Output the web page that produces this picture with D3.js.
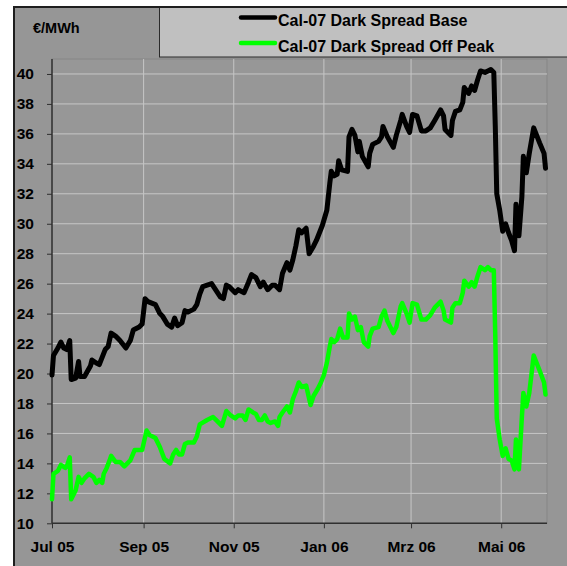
<!DOCTYPE html>
<html>
<head>
<meta charset="utf-8">
<script src="https://cdn.jsdelivr.net/npm/d3@7"></script>
<style>
  html, body { margin: 0; padding: 0; background: #fff; }
  svg { display: block; }
  text { font-family: "Liberation Sans", Arial, sans-serif; font-weight: bold; fill: #000; }
</style>
</head>
<body>
<svg id="chart" width="567" height="566"></svg>
<script>
// Werte (Datum, €/MWh)
const baseSeries = [
  ["2005-07-01", 19.9], ["2005-07-02", 21.2], ["2005-07-05", 21.7], ["2005-07-07", 22.1],
  ["2005-07-09", 21.7], ["2005-07-11", 21.6], ["2005-07-13", 22.2], ["2005-07-14", 19.6],
  ["2005-07-17", 19.7], ["2005-07-19", 20.8], ["2005-07-20", 19.8], ["2005-07-23", 19.8],
  ["2005-07-27", 20.5], ["2005-07-28", 20.9], ["2005-07-31", 20.7], ["2005-08-02", 20.6],
  ["2005-08-04", 21.1], ["2005-08-06", 21.6], ["2005-08-08", 21.8], ["2005-08-10", 22.7],
  ["2005-08-13", 22.5], ["2005-08-16", 22.2], ["2005-08-20", 21.7], ["2005-08-23", 22.2],
  ["2005-08-25", 22.9], ["2005-08-29", 23.1], ["2005-08-31", 23.3], ["2005-09-02", 25.0],
  ["2005-09-04", 24.8], ["2005-09-09", 24.6], ["2005-09-12", 24.0], ["2005-09-14", 23.8],
  ["2005-09-17", 23.3], ["2005-09-20", 23.1], ["2005-09-22", 23.7], ["2005-09-24", 23.2],
  ["2005-09-27", 23.4], ["2005-09-29", 24.2], ["2005-10-01", 24.1], ["2005-10-05", 24.3],
  ["2005-10-07", 24.6], ["2005-10-09", 25.3], ["2005-10-11", 25.8], ["2005-10-14", 25.9],
  ["2005-10-17", 26.0], ["2005-10-19", 25.7], ["2005-10-23", 25.1], ["2005-10-25", 25.0],
  ["2005-10-27", 25.9], ["2005-10-29", 25.8], ["2005-11-02", 25.4], ["2005-11-04", 25.6],
  ["2005-11-06", 25.5], ["2005-11-08", 25.4], ["2005-11-11", 26.1], ["2005-11-13", 26.6],
  ["2005-11-16", 26.4], ["2005-11-19", 25.8], ["2005-11-21", 26.1], ["2005-11-24", 25.6],
  ["2005-11-27", 25.9], ["2005-11-29", 25.9], ["2005-12-02", 25.6], ["2005-12-04", 26.7],
  ["2005-12-07", 27.4], ["2005-12-09", 26.9], ["2005-12-11", 27.6], ["2005-12-13", 28.5],
  ["2005-12-15", 29.6], ["2005-12-17", 29.4], ["2005-12-20", 29.7], ["2005-12-22", 28.0],
  ["2005-12-25", 28.5], ["2005-12-27", 28.9], ["2005-12-29", 29.4], ["2005-12-31", 29.9],
  ["2006-01-03", 30.9], ["2006-01-05", 32.7], ["2006-01-06", 33.5], ["2006-01-08", 33.2],
  ["2006-01-10", 33.3], ["2006-01-11", 34.2], ["2006-01-13", 33.6], ["2006-01-17", 33.5],
  ["2006-01-18", 35.8], ["2006-01-20", 36.3], ["2006-01-22", 35.9], ["2006-01-24", 34.8],
  ["2006-01-25", 35.5], ["2006-01-27", 34.5], ["2006-01-31", 33.8], ["2006-02-01", 34.7],
  ["2006-02-03", 35.3], ["2006-02-07", 35.5], ["2006-02-09", 35.8], ["2006-02-10", 36.5],
  ["2006-02-13", 35.8], ["2006-02-17", 35.1], ["2006-02-19", 35.9], ["2006-02-22", 36.9],
  ["2006-02-23", 37.3], ["2006-02-26", 36.5], ["2006-02-28", 36.1], ["2006-03-02", 37.3],
  ["2006-03-05", 37.2], ["2006-03-08", 36.2], ["2006-03-11", 36.2], ["2006-03-14", 36.4],
  ["2006-03-17", 36.9], ["2006-03-21", 37.6], ["2006-03-23", 37.2], ["2006-03-24", 36.3],
  ["2006-03-28", 35.9], ["2006-03-29", 36.9], ["2006-03-31", 37.5], ["2006-04-03", 37.6],
  ["2006-04-05", 38.1], ["2006-04-06", 39.1], ["2006-04-09", 38.7], ["2006-04-11", 39.2],
  ["2006-04-13", 38.9], ["2006-04-15", 39.6], ["2006-04-17", 40.2], ["2006-04-20", 40.1],
  ["2006-04-22", 40.2], ["2006-04-24", 40.3], ["2006-04-26", 40.1], ["2006-04-27", 36.5],
  ["2006-04-28", 32.0], ["2006-04-30", 30.9], ["2006-05-02", 29.5], ["2006-05-04", 30.0],
  ["2006-05-06", 29.4], ["2006-05-08", 28.9], ["2006-05-10", 28.2], ["2006-05-11", 31.3],
  ["2006-05-13", 29.2], ["2006-05-15", 31.8], ["2006-05-16", 34.5], ["2006-05-18", 33.4],
  ["2006-05-20", 34.7], ["2006-05-23", 36.4], ["2006-05-27", 35.4], ["2006-05-30", 34.7],
  ["2006-05-31", 33.7]
];

const offPeakSeries = [
  ["2005-07-01", 11.6], ["2005-07-02", 13.3], ["2005-07-05", 13.5], ["2005-07-07", 13.9],
  ["2005-07-10", 13.7], ["2005-07-11", 13.8], ["2005-07-13", 14.4], ["2005-07-14", 11.6],
  ["2005-07-17", 12.2], ["2005-07-19", 13.1], ["2005-07-21", 12.7], ["2005-07-23", 13.0],
  ["2005-07-26", 13.3], ["2005-07-29", 13.1], ["2005-07-31", 12.7], ["2005-08-02", 12.9],
  ["2005-08-04", 12.7], ["2005-08-05", 13.3], ["2005-08-07", 13.7], ["2005-08-09", 14.2],
  ["2005-08-10", 14.5], ["2005-08-13", 14.1], ["2005-08-16", 14.1], ["2005-08-19", 13.8],
  ["2005-08-23", 14.2], ["2005-08-26", 14.9], ["2005-08-31", 14.9], ["2005-09-03", 16.2],
  ["2005-09-05", 15.9], ["2005-09-09", 15.7], ["2005-09-12", 15.1], ["2005-09-15", 14.3],
  ["2005-09-19", 14.0], ["2005-09-21", 14.6], ["2005-09-23", 14.9], ["2005-09-25", 14.6],
  ["2005-09-27", 14.6], ["2005-09-29", 15.3], ["2005-10-01", 15.4], ["2005-10-05", 15.4],
  ["2005-10-07", 15.8], ["2005-10-09", 16.6], ["2005-10-14", 16.9], ["2005-10-18", 17.1],
  ["2005-10-21", 16.8], ["2005-10-24", 16.5], ["2005-10-27", 17.5], ["2005-10-30", 17.2],
  ["2005-11-02", 17.0], ["2005-11-04", 17.2], ["2005-11-07", 17.2], ["2005-11-09", 16.9],
  ["2005-11-11", 17.6], ["2005-11-14", 17.4], ["2005-11-16", 17.3], ["2005-11-18", 16.9],
  ["2005-11-20", 16.9], ["2005-11-22", 17.2], ["2005-11-24", 16.8], ["2005-11-26", 16.7],
  ["2005-11-29", 16.8], ["2005-12-01", 16.5], ["2005-12-02", 17.1], ["2005-12-04", 17.4],
  ["2005-12-07", 17.8], ["2005-12-09", 17.4], ["2005-12-11", 18.3], ["2005-12-13", 18.8],
  ["2005-12-15", 19.4], ["2005-12-17", 19.1], ["2005-12-20", 19.2], ["2005-12-23", 17.9],
  ["2005-12-25", 18.5], ["2005-12-28", 19.0], ["2005-12-30", 19.4], ["2006-01-01", 19.9],
  ["2006-01-03", 20.7], ["2006-01-05", 21.8], ["2006-01-06", 22.3], ["2006-01-08", 22.1],
  ["2006-01-10", 22.3], ["2006-01-12", 23.0], ["2006-01-14", 22.4], ["2006-01-17", 22.4],
  ["2006-01-18", 24.0], ["2006-01-20", 23.6], ["2006-01-22", 23.8], ["2006-01-24", 22.9],
  ["2006-01-26", 23.1], ["2006-01-28", 22.1], ["2006-01-31", 21.8], ["2006-02-01", 22.5],
  ["2006-02-03", 23.0], ["2006-02-07", 23.1], ["2006-02-09", 23.8], ["2006-02-11", 24.2],
  ["2006-02-13", 23.5], ["2006-02-17", 22.7], ["2006-02-19", 23.1], ["2006-02-22", 24.5],
  ["2006-02-23", 24.7], ["2006-02-26", 24.0], ["2006-02-28", 23.4], ["2006-03-02", 24.7],
  ["2006-03-05", 24.6], ["2006-03-08", 23.6], ["2006-03-11", 23.6], ["2006-03-14", 23.9],
  ["2006-03-17", 24.4], ["2006-03-21", 24.8], ["2006-03-23", 24.2], ["2006-03-24", 23.6],
  ["2006-03-28", 23.4], ["2006-03-29", 24.4], ["2006-03-31", 24.7], ["2006-04-03", 24.7],
  ["2006-04-05", 25.4], ["2006-04-06", 26.2], ["2006-04-09", 25.8], ["2006-04-11", 26.1],
  ["2006-04-13", 25.8], ["2006-04-15", 26.5], ["2006-04-17", 27.1], ["2006-04-20", 26.9],
  ["2006-04-22", 27.1], ["2006-04-24", 26.9], ["2006-04-26", 26.9], ["2006-04-27", 22.5],
  ["2006-04-28", 17.0], ["2006-04-30", 15.6], ["2006-05-02", 14.5], ["2006-05-04", 15.0],
  ["2006-05-06", 14.3], ["2006-05-08", 14.2], ["2006-05-10", 13.6], ["2006-05-11", 15.6],
  ["2006-05-13", 13.6], ["2006-05-15", 17.1], ["2006-05-16", 18.7], ["2006-05-18", 17.8],
  ["2006-05-20", 18.7], ["2006-05-23", 21.2], ["2006-05-27", 20.2], ["2006-05-30", 19.4],
  ["2006-05-31", 18.6]
];

const seriesNames = ["Cal-07 Dark Spread Base", "Cal-07 Dark Spread Off Peak"];
const seriesColors = ["#000000", "#00ff00"];

const xTickDates = ["2005-07-01", "2005-09-01", "2005-11-01", "2006-01-01", "2006-03-01", "2006-05-01"];
const xTickLabels = ["Jul 05", "Sep 05", "Nov 05", "Jan 06", "Mrz 06", "Mai 06"];
const yTicks = [10, 12, 14, 16, 18, 20, 22, 24, 26, 28, 30, 32, 34, 36, 38, 40];
const unitLabel = "€/MWh";

const parse = d3.timeParse("%Y-%m-%d");
const svg = d3.select("#chart");

// Diagrammfläche (läuft rechts/unten über den Bildrand hinaus)
svg.append("rect")
  .attr("x", 14).attr("y", 7)
  .attr("width", 600).attr("height", 600)
  .attr("fill", "#969696")
  .attr("stroke", "#1e1e1e")
  .attr("stroke-width", 2);

// Zeichenfläche
const plot = { left: 52, right: 547, top: 59, bottom: 523.3 };

const x = d3.scaleTime()
  .domain([parse("2005-07-01"), parse("2006-06-01")])
  .range([plot.left, plot.right]);

const y = d3.scaleLinear()
  .domain([10, 41])
  .range([plot.bottom, plot.top]);

svg.append("rect")
  .attr("x", plot.left).attr("y", plot.top)
  .attr("width", plot.right - plot.left)
  .attr("height", plot.bottom - plot.top)
  .attr("fill", "#979797")
  .attr("stroke", "#858585")
  .attr("stroke-width", 1);

// Gitterlinien
svg.append("g")
  .selectAll("line")
  .data(yTicks.filter((v) => v > 10))
  .join("line")
  .attr("x1", plot.left).attr("x2", plot.right)
  .attr("y1", (d) => y(d)).attr("y2", (d) => y(d))
  .attr("stroke", "#c6c6c6")
  .attr("stroke-width", 1);

svg.append("g")
  .selectAll("line")
  .data(xTickDates.slice(1))
  .join("line")
  .attr("x1", (d) => x(parse(d))).attr("x2", (d) => x(parse(d)))
  .attr("y1", plot.top).attr("y2", plot.bottom)
  .attr("stroke", "#c6c6c6")
  .attr("stroke-width", 1);

// Achsen
const yAxis = d3.axisLeft(y)
  .tickValues(yTicks)
  .tickSize(5)
  .tickPadding(13)
  .tickFormat(d3.format("d"));

svg.append("g")
  .attr("transform", `translate(${plot.left},0)`)
  .call(yAxis)
  .call((g) => g.select(".domain").remove())
  .call((g) => g.selectAll(".tick line").attr("stroke", "#303030"))
  .call((g) => g.selectAll(".tick text")
    .attr("font-size", 15.5)
    .attr("font-family", "Liberation Sans, Arial, sans-serif")
    .attr("font-weight", "bold")
    .attr("fill", "#000"));

const xAxis = d3.axisBottom(x)
  .tickValues(xTickDates.map(parse))
  .tickSize(5)
  .tickPadding(13)
  .tickFormat((d, i) => xTickLabels[i]);

svg.append("g")
  .attr("transform", `translate(0,${plot.bottom})`)
  .call(xAxis)
  .call((g) => g.select(".domain").remove())
  .call((g) => g.selectAll(".tick line").attr("stroke", "#303030"))
  .call((g) => g.selectAll(".tick text")
    .attr("font-size", 15.5)
    .attr("font-family", "Liberation Sans, Arial, sans-serif")
    .attr("font-weight", "bold")
    .attr("fill", "#000"));

// Achsenlinien
svg.append("line")
  .attr("x1", plot.left).attr("x2", plot.left)
  .attr("y1", plot.top).attr("y2", plot.bottom)
  .attr("stroke", "#303030").attr("stroke-width", 1.5);
svg.append("line")
  .attr("x1", plot.left).attr("x2", plot.right)
  .attr("y1", plot.bottom).attr("y2", plot.bottom)
  .attr("stroke", "#303030").attr("stroke-width", 1.5);

// Linien
const line = d3.line()
  .x((d) => x(parse(d[0])))
  .y((d) => y(d[1]))
  .curve(d3.curveLinear);

[baseSeries, offPeakSeries].forEach((s, i) => {
  svg.append("path")
    .datum(s)
    .attr("d", line)
    .attr("fill", "none")
    .attr("stroke", seriesColors[i])
    .attr("stroke-width", i === 0 ? 5 : 4.5)
    .attr("stroke-linejoin", "round")
    .attr("stroke-linecap", "round");
});

// Einheit oben links
svg.append("text")
  .attr("x", 33).attr("y", 33)
  .attr("font-size", 14.5)
  .text(unitLabel);

// Legende
svg.append("rect")
  .attr("x", 159.5).attr("y", 7)
  .attr("width", 500).attr("height", 50)
  .attr("fill", "#c0c0c0")
  .attr("stroke", "#2a2a2a")
  .attr("stroke-width", 1);

const legendRows = [17.5, 43];
seriesNames.forEach((name, i) => {
  const ly = legendRows[i];
  svg.append("line")
    .attr("x1", 241).attr("x2", 275)
    .attr("y1", ly).attr("y2", ly)
    .attr("stroke", seriesColors[i])
    .attr("stroke-width", 4.5)
    .attr("stroke-linecap", "round");
  svg.append("text")
    .attr("x", 278).attr("y", ly + 8.5)
    .attr("font-size", 16)
    .text(name);
});

// Rahmen oben nochmal drüber, damit die Linie durchgehend bleibt
svg.append("line")
  .attr("x1", 13).attr("x2", 567)
  .attr("y1", 7).attr("y2", 7)
  .attr("stroke", "#1e1e1e").attr("stroke-width", 2);
</script>
</body>
</html>
